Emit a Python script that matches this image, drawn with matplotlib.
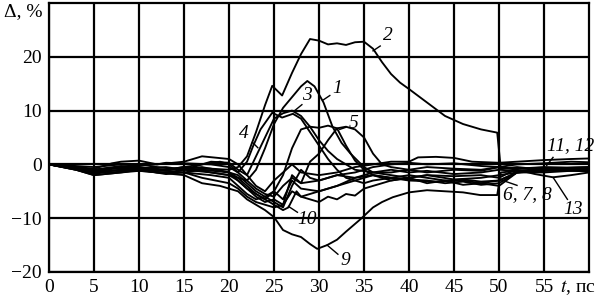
import matplotlib
matplotlib.use('Agg')
import matplotlib.pyplot as plt

plt.rcParams['font.family'] = ['Liberation Serif', 'DejaVu Serif']
plt.rcParams['mathtext.fontset'] = 'stix'

# curves: time, ps  /  deviation, %
t1 = [0, 2, 5, 7, 10, 12, 15, 17, 20, 21, 22, 23, 24, 25, 26, 27, 28, 28.7, 29.5, 30.5, 31.5, 32.5, 33.5, 35, 36, 38, 40, 42, 45, 48, 50, 52, 55, 58, 60]
d1 = [0, -0.6, -1.2, -0.8, -0.6, -1.0, -0.8, -0.5, -1.5, -2.5, -3.0, -1.0, 3.0, 7.5, 10.5, 12.5, 14.5, 15.5, 14.5, 11.5, 7.0, 4.0, 2.0, -0.5, -1.5, -1.0, -1.5, -1.2, -1.8, -1.5, -1.0, -1.2, -0.8, -1.0, -0.8]

t2 = [0, 2, 5, 8, 10, 13, 15, 18, 20, 21, 22, 23, 24, 24.8, 25.9, 27, 28, 29, 30, 31, 32, 33, 34, 35, 36, 37, 38, 39, 40, 42, 44, 46, 48, 49.8, 50.2, 52, 55, 58, 60]
d2 = [0, -0.5, -1.0, -0.3, -0.5, -1.0, -0.5, -0.8, -1.0, -0.5, 1.5, 6.0, 11.0, 14.6, 12.8, 17.0, 20.5, 23.3, 23.0, 22.3, 22.5, 22.2, 22.7, 22.8, 21.5, 19.0, 16.8, 15.2, 14.0, 11.5, 9.0, 7.5, 6.5, 5.9, -0.8, -0.5, -1.0, -0.6, -0.5]

t3 = [0, 3, 5, 8, 10, 13, 15, 18, 20, 21, 22, 23, 24, 25, 26, 27, 28, 29, 30, 31, 32, 33, 34, 36, 38, 40, 42, 45, 48, 50, 52, 55, 58, 60]
d3 = [0, -0.8, -1.5, -1.0, -0.8, -0.5, -1.0, 0.5, 0.3, -1.0, -2.0, 1.5, 5.0, 8.5, 9.5, 10.0, 9.0, 7.0, 4.5, 2.5, 1.0, 0.0, -1.0, -1.5, -2.0, -2.5, -2.0, -2.8, -2.5, -2.0, -1.5, -1.2, -1.0, -1.2]

t4 = [0, 3, 5, 7, 10, 12, 15, 17, 19, 20, 21, 22, 22.7, 23.5, 24.8, 25.9, 27.1, 28, 29, 30, 31, 32, 33, 34, 35, 36, 38, 40, 43, 46, 48, 50, 52, 55, 58, 60]
d4 = [0, -0.5, -1.2, -1.5, -1.0, -1.2, -0.5, 0.0, 0.5, 0.0, -1.5, 0.5, 3.5, 6.5, 9.6, 8.7, 9.4, 8.5, 6.0, 3.5, 1.0, -1.0, -2.5, -3.0, -3.5, -3.0, -2.5, -3.0, -3.2, -3.0, -3.5, -3.0, -1.5, -1.0, -0.8, -0.7]

t5 = [0, 3, 5, 8, 10, 12, 15, 18, 20, 21, 22, 23, 24, 25, 26, 27, 28, 29, 30, 31, 32, 33, 34, 35, 36, 37, 38, 40, 42, 45, 48, 50, 52, 55, 58, 60]
d5 = [0, -0.5, -1.0, -0.5, 0.0, -0.5, -1.0, -0.8, -1.5, -3.0, -4.5, -5.5, -6.5, -5.0, -2.0, 3.0, 6.5, 7.0, 6.8, 7.2, 6.7, 7.0, 6.5, 5.0, 2.0, 0.0, -0.5, -1.0, -0.5, -0.8, -1.0, -0.5, -0.8, -0.6, -0.8, -0.7]

t6 = [0, 3, 5, 8, 10, 13, 15, 18, 20, 21, 22, 23, 24, 25, 26, 27, 28, 29, 30, 31, 32, 33, 34, 35, 36, 38, 40, 42, 44, 46, 48, 50, 52, 55, 58, 60]
d6 = [0, -1.0, -2.0, -1.5, -1.2, -1.5, -1.0, -1.5, -2.0, -3.0, -4.5, -6.0, -7.0, -6.5, -7.5, -2.0, -3.5, 0.5, 2.0, 4.5, 6.7, 3.5, 0.7, -1.0, -2.0, -2.5, -2.8, -3.0, -3.5, -3.2, -3.8, -3.5, -1.5, -1.0, -1.2, -1.0]

t7 = [0, 3, 5, 7, 10, 13, 15, 17, 20, 21, 22, 23, 24, 25, 26, 27, 28, 29, 30, 32, 34, 36, 38, 40, 42, 44, 46, 48, 50, 52, 55, 58, 60]
d7 = [0, -1.0, -1.8, -1.2, -1.0, -1.8, -1.5, -1.0, -1.5, -2.0, -3.5, -5.0, -6.0, -7.0, -8.0, -4.0, -1.0, -2.5, -3.0, -2.0, -2.5, -2.0, -3.0, -2.5, -3.5, -3.0, -3.8, -3.5, -4.0, -1.5, -1.2, -1.0, -1.2]

t8 = [0, 3, 5, 8, 10, 12, 15, 18, 20, 21, 22, 23, 24, 25, 26, 27, 28, 30, 32, 34, 36, 38, 40, 42, 44, 46, 48, 50, 52, 55, 58, 60]
d8 = [0, -0.8, -1.5, -0.5, -0.5, -1.0, -1.5, -2.0, -2.5, -4.0, -5.5, -6.5, -6.0, -5.0, -6.5, -3.0, -4.5, -5.0, -4.0, -3.0, -2.0, -2.5, -2.0, -2.5, -3.0, -2.8, -3.2, -3.0, -1.5, -1.5, -1.2, -1.3]

t9 = [0, 3, 5, 8, 10, 12, 15, 17, 19, 20, 21, 22, 23, 24, 25, 26, 27, 28, 29, 29.8, 30.9, 32, 33, 34.6, 36, 37, 38.2, 40, 42, 44, 46, 47.9, 49.8, 50.2, 52, 55, 58, 60]
d9 = [0, -1.0, -2.0, -1.5, -1.0, -1.5, -2.0, -3.5, -4.0, -4.5, -5.0, -6.5, -7.5, -8.5, -9.8, -12.2, -13.0, -13.5, -14.8, -15.7, -15.0, -14.0, -12.5, -10.2, -8.0, -7.0, -6.1, -5.2, -4.8, -5.0, -5.2, -5.7, -5.7, -1.5, -1.2, -1.0, -1.1, -1.0]

t10 = [0, 3, 5, 8, 10, 13, 15, 18, 20, 21, 22, 23, 24, 25, 26, 26.6, 27.5, 28, 29, 30, 31, 32, 33, 34, 35, 36, 37, 38, 40, 42, 45, 48, 50, 52, 55, 58, 60]
d10 = [0, -0.5, -1.0, -0.5, -0.8, -1.2, -0.5, -1.5, -2.0, -2.5, -4.0, -5.5, -6.5, -7.5, -8.5, -8.0, -5.0, -6.0, -6.5, -7.0, -6.0, -6.5, -5.5, -5.8, -4.5, -4.0, -3.5, -3.0, -2.5, -2.0, -2.2, -2.0, -2.5, -0.8, -0.5, -0.6, -0.5]

t11 = [0, 3, 5, 7, 8, 10, 12, 15, 17, 20, 21, 22, 23, 24, 25, 26, 27, 28, 30, 32, 34, 36, 38, 40, 41, 43, 45, 47, 50, 52, 55, 58, 60]
d11 = [0, -0.5, -0.8, 0.2, 0.5, 0.7, 0.0, 0.5, 1.5, 1.0, 0.0, -2.0, -4.0, -5.0, -3.0, -1.5, 0.0, -1.5, -2.0, -1.5, -0.5, 0.0, 0.5, 0.5, 1.3, 1.4, 1.2, 0.5, 0.3, 0.5, 0.8, 1.0, 1.1]

t12 = [0, 3, 5, 8, 10, 12, 13, 15, 18, 20, 21, 22, 23, 24, 25, 26, 27, 28, 30, 32, 34, 36, 38, 40, 42, 45, 48, 50, 52, 55, 58, 60]
d12 = [0, -0.3, -0.5, 0.0, -0.2, 0.0, 0.3, 0.2, 0.0, -0.5, -1.5, -3.0, -4.5, -5.5, -6.0, -4.0, -2.5, -3.5, -3.0, -2.0, -1.5, -0.5, 0.0, 0.3, 0.0, 0.2, -0.3, -0.5, 0.0, 0.2, 0.5, 0.4]

t13 = [0, 3, 5, 8, 10, 12, 15, 17, 20, 21, 22, 23, 24, 25, 26, 27, 28, 29, 30, 32, 34, 36, 38, 40, 42, 45, 48, 50, 52, 54, 56, 58, 60]
d13 = [0, -0.8, -1.5, -1.0, -1.2, -1.5, -1.5, -2.5, -3.5, -4.5, -6.0, -7.0, -7.5, -8.0, -7.5, -5.0, -6.0, -5.5, -5.0, -4.0, -2.5, -1.5, -1.5, -1.0, -1.5, -1.0, -1.2, -0.5, -1.0, -1.8, -2.4, -2.0, -1.5]

curves = [(t1, d1), (t2, d2), (t3, d3), (t4, d4), (t5, d5), (t6, d6), (t7, d7),
          (t8, d8), (t9, d9), (t10, d10), (t11, d11), (t12, d12), (t13, d13)]

# curve labels: text, label position, leader line start/end
labels = ['2', '1', '3', '4', '5', '10', '9', '6, 7, 8', '11, 12', '13']
label_xy = [(37.7, 23.9), (32.0, 14.1), (28.6, 12.8), (21.6, 5.7), (33.8, 7.6),
            (28.7, -10.2), (32.9, -17.8), (53.2, -5.6), (58.0, 3.5), (58.2, -8.3)]
leaders = [((36.0, 21.1), (36.8, 22.0)), ((30.4, 11.9), (31.2, 12.8)),
           ((27.3, 10.0), (28.1, 11.1)), ((22.6, 4.1), (23.2, 3.1)),
           ((33.0, 6.9), (32.3, 6.5)), ((27.6, -8.9), (26.6, -7.8)),
           ((32.1, -16.7), (30.9, -15.0)), ((52.0, -3.9), (50.1, -2.8)),
           ((56.0, 1.3), (55.3, -0.2)), ((57.6, -6.5), (56.0, -2.4))]

xticks = [0, 5, 10, 15, 20, 25, 30, 35, 40, 45, 50, 55]
yticks = [-20, -10, 0, 10, 20]
ytick_labels = ['\u221220', '\u221210', '0', '10', '20']

fig = plt.figure(figsize=(6, 2.97), dpi=100)
ax = fig.add_axes([0.0817, 0.0842, 0.9, 0.9058])

for t, d in curves:
    ax.plot(t, d, color='black', lw=1.35)

for txt, (lx, ly), ((x0, y0), (x1, y1)) in zip(labels, label_xy, leaders):
    ax.plot([x0, x1], [y0, y1], color='black', lw=1.0)
    ax.text(lx, ly, txt, fontsize=14, style='italic', ha='center', va='center')

ax.set_xlim(0, 60)
ax.set_ylim(-20, 30)
ax.set_xticks(xticks)
ax.set_yticks(yticks)
ax.set_yticklabels(ytick_labels)
ax.tick_params(length=0, labelsize=14, pad=5)
ax.grid(True, color='black', lw=1.6)
for s in ax.spines.values():
    s.set_linewidth(1.6)

ax.text(-0.7, 28.4, '\u0394, %', fontsize=14, ha='right', va='center')
ax.text(58.8, -21.2, '$t$, пс', fontsize=14, ha='center', va='top')

fig.savefig('out.png', dpi=100)
